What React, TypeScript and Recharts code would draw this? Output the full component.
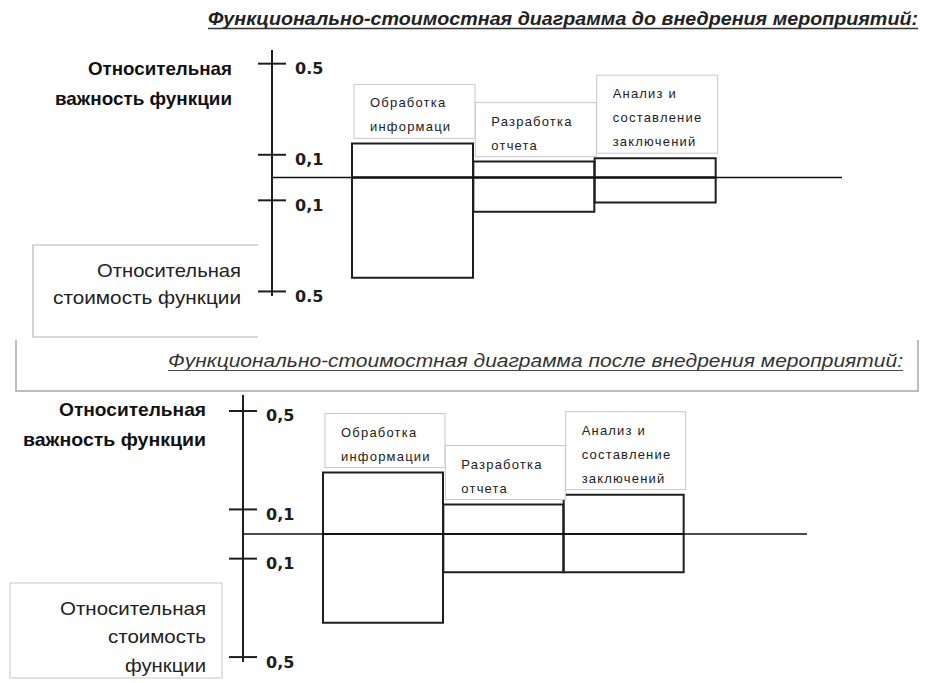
import React from "react";
import { BarChart, Bar, XAxis, YAxis, ReferenceLine, LabelList } from "recharts";

// ---------- data ----------
const categories = [
  "Обработка информации",
  "Разработка отчета",
  "Анализ и составление заключений",
];
const boxLinesBefore = [
  ["Обработка", "информаци"],
  ["Разработка", "отчета"],
  ["Анализ и", "составление", "заключений"],
];
const boxLinesAfter = [
  ["Обработка", "информации"],
  ["Разработка", "отчета"],
  ["Анализ и", "составление", "заключений"],
];
const importanceBefore = [0.15, 0.07, 0.085];
const costBefore = [-0.44, -0.15, -0.11];
const importanceAfter = [0.25, 0.12, 0.16];
const costAfter = [-0.36, -0.155, -0.155];
const tickValues = [0.5, 0.1, -0.1, -0.5];
const tickLabelsBefore = ["0.5", "0,1", "0,1", "0.5"];
const tickLabelsAfter = ["0,5", "0,1", "0,1", "0,5"];

const titleBefore = "Функционально-стоимостная диаграмма до внедрения мероприятий:";
const titleAfter = "Функционально-стоимостная диаграмма после внедрения мероприятий:";

const dataBefore = categories.map((name, i) => ({
  name,
  importance: importanceBefore[i],
  cost: costBefore[i],
}));
const dataAfter = categories.map((name, i) => ({
  name,
  importance: importanceAfter[i],
  cost: costAfter[i],
}));

const FONT = "'Liberation Sans', Arial, sans-serif";
const INK = "#1e1e1e";

function makeTick(labels: string[], axisX: number) {
  return (props: any) => {
    const { y, payload } = props;
    const i = tickValues.indexOf(payload.value);
    return (
      <g>
        <line x1={axisX - 14} x2={axisX + 14} y1={y} y2={y} stroke={INK} strokeWidth={2} />
        <text
          x={axisX + 23}
          y={y + 5}
          dominantBaseline="central"
          fontFamily="'DejaVu Sans', sans-serif"
          fontWeight="bold"
          fontSize={16}
          fill={INK}
        >
          {i >= 0 ? labels[i] : ""}
        </text>
      </g>
    );
  };
}

function makeBox(linesArr: string[][]) {
  return (props: any) => {
    const vb = props.viewBox || props;
    const x = Number(vb.x);
    const y = Number(vb.y);
    const w = Number(vb.width);
    const h = Number(vb.height);
    const idx = props.index ?? 0;
    const lines = linesArr[idx] || [];
    const top = Math.min(y, y + h);
    const boxH = lines.length * 24 + 6;
    const boxY = top - 5 - boxH;
    return (
      <g>
        <rect x={x + 2} y={boxY} width={w} height={boxH} fill="#fff" stroke="#c8c8c8" strokeWidth={1} />
        {lines.map((t, k) => (
          <text
            key={k}
            x={x + 18}
            y={boxY + 23 + k * 24}
            fontFamily={FONT}
            fontSize={13}
            letterSpacing={1.2}
            fill="#222"
          >
            {t}
          </text>
        ))}
      </g>
    );
  };
}

function Diagram(props: {
  data: any[];
  width: number;
  height: number;
  margin: any;
  axisX: number;
  domain: [number, number];
  padding: { left: number; right: number };
  tickLabels: string[];
  boxLines: string[][];
}) {
  const { data, width, height, margin, axisX, domain, padding, tickLabels, boxLines } = props;
  return (
    <BarChart
      width={width}
      height={height}
      data={data}
      margin={margin}
      barCategoryGap={0}
      barGap={0}
      stackOffset="sign"
    >
      <XAxis dataKey="name" hide padding={padding} />
      <YAxis
        type="number"
        width={30}
        domain={domain}
        ticks={tickValues}
        interval={0}
        allowDataOverflow
        axisLine={{ stroke: INK, strokeWidth: 2 }}
        tickLine={false}
        tick={makeTick(tickLabels, axisX)}
      />
      <Bar dataKey="importance" stackId="a" fill="none" stroke={INK} strokeWidth={2} isAnimationActive={false}>
        <LabelList dataKey="name" content={makeBox(boxLines)} />
      </Bar>
      <Bar dataKey="cost" stackId="a" fill="none" stroke={INK} strokeWidth={2} isAnimationActive={false} />
      <ReferenceLine y={0} stroke="#111" strokeWidth={1.6} />
    </BarChart>
  );
}

export default function App() {
  return (
    <div style={{ position: "absolute", left: 0, top: 0, width: 935, height: 683, background: "#fff", overflow: "hidden" }}>
      {/* static frames and labels */}
      <svg width={935} height={683} style={{ position: "absolute", left: 0, top: 0 }}>
        {/* top title */}
        <text
          x={208}
          y={25}
          textLength={710}
          lengthAdjust="spacingAndGlyphs"
          fontFamily={FONT}
          fontStyle="italic"
          fontWeight="bold"
          fontSize={18}
          fill="#222"
        >
          {titleBefore}
        </text>
        <line x1={208} x2={918} y1={28.5} y2={28.5} stroke="#333" strokeWidth={1.5} />

        {/* top chart left labels */}
        <text x={232} y={75} textAnchor="end" textLength={144} lengthAdjust="spacingAndGlyphs" fontFamily={FONT} fontWeight="bold" fontSize={19} fill="#111">
          Относительная
        </text>
        <text x={232} y={105} textAnchor="end" textLength={177} lengthAdjust="spacingAndGlyphs" fontFamily={FONT} fontWeight="bold" fontSize={19} fill="#111">
          важность функции
        </text>
        <path d="M258,245 H33 V337 H258" fill="none" stroke="#b4b4b4" strokeWidth={1.2} />
        <text x={241} y={277} textAnchor="end" textLength={144} lengthAdjust="spacingAndGlyphs" fontFamily={FONT} fontSize={19} fill="#222">
          Относительная
        </text>
        <text x={241} y={304} textAnchor="end" textLength={188} lengthAdjust="spacingAndGlyphs" fontFamily={FONT} fontSize={19} fill="#222">
          стоимость функции
        </text>

        {/* bottom title in a box */}
        <path d="M16,340 V391 H918 V340" fill="none" stroke="#a8a8a8" strokeWidth={1.5} />
        <text
          x={168}
          y={367}
          textLength={735}
          lengthAdjust="spacingAndGlyphs"
          fontFamily={FONT}
          fontStyle="italic"
          fontSize={18}
          fill="#333"
        >
          {titleAfter}
        </text>
        <line x1={168} x2={903} y1={370.5} y2={370.5} stroke="#444" strokeWidth={1.2} />

        {/* bottom chart left labels */}
        <text x={206} y={416} textAnchor="end" textLength={147} lengthAdjust="spacingAndGlyphs" fontFamily={FONT} fontWeight="bold" fontSize={19} fill="#111">
          Относительная
        </text>
        <text x={206} y={446} textAnchor="end" textLength={183} lengthAdjust="spacingAndGlyphs" fontFamily={FONT} fontWeight="bold" fontSize={19} fill="#111">
          важность функции
        </text>
        <rect x={10} y={583} width={212} height={95} fill="none" stroke="#cfcfcf" strokeWidth={1.2} />
        <text x={206} y={615} textAnchor="end" textLength={146} lengthAdjust="spacingAndGlyphs" fontFamily={FONT} fontSize={19} fill="#222">
          Относительная
        </text>
        <text x={206} y={643} textAnchor="end" textLength={98} lengthAdjust="spacingAndGlyphs" fontFamily={FONT} fontSize={19} fill="#222">
          стоимость
        </text>
        <text x={206} y={672} textAnchor="end" textLength={81} lengthAdjust="spacingAndGlyphs" fontFamily={FONT} fontSize={19} fill="#222">
          функции
        </text>
      </svg>

      <div style={{ position: "absolute", left: 0, top: 0 }}>
        <Diagram
          data={dataBefore}
          width={935}
          height={340}
          margin={{ top: 50, right: 93, bottom: 44, left: 242 }}
          axisX={272}
          domain={[-0.52, 0.56]}
          padding={{ left: 80, right: 126 }}
          tickLabels={tickLabelsBefore}
          boxLines={boxLinesBefore}
        />
      </div>
      <div style={{ position: "absolute", left: 0, top: 340 }}>
        <Diagram
          data={dataAfter}
          width={935}
          height={343}
          margin={{ top: 55, right: 128, bottom: 21, left: 213 }}
          axisX={243}
          domain={[-0.52, 0.565]}
          padding={{ left: 80, right: 123 }}
          tickLabels={tickLabelsAfter}
          boxLines={boxLinesAfter}
        />
      </div>
    </div>
  );
}
